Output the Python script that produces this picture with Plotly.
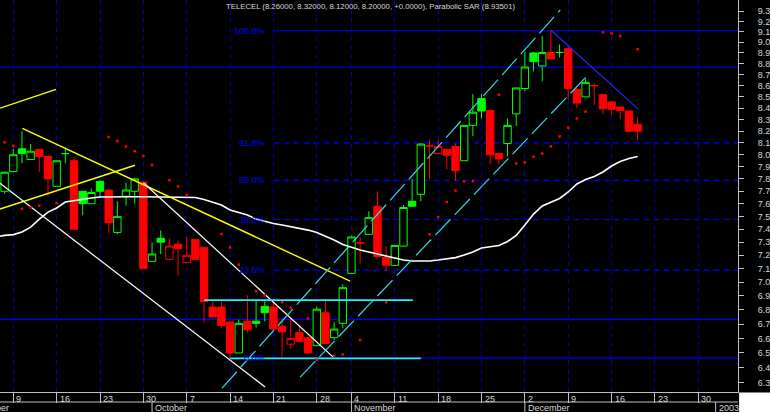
import math
import plotly.graph_objects as go

# ---------------- data ----------------
dates = [
    '2002-09-06', '2002-09-09', '2002-09-10', '2002-09-11', '2002-09-12', '2002-09-13',
    '2002-09-16', '2002-09-17', '2002-09-18', '2002-09-19', '2002-09-20', '2002-09-23',
    '2002-09-24', '2002-09-25', '2002-09-26', '2002-09-27', '2002-09-30',
    '2002-10-01', '2002-10-02', '2002-10-03', '2002-10-04', '2002-10-07', '2002-10-08',
    '2002-10-09', '2002-10-10', '2002-10-11', '2002-10-14', '2002-10-15', '2002-10-16',
    '2002-10-17', '2002-10-18', '2002-10-21', '2002-10-22', '2002-10-23', '2002-10-24',
    '2002-10-25', '2002-10-28', '2002-10-29', '2002-10-30', '2002-10-31',
    '2002-11-04', '2002-11-05', '2002-11-06', '2002-11-07', '2002-11-08', '2002-11-11',
    '2002-11-12', '2002-11-13', '2002-11-14', '2002-11-15', '2002-11-18', '2002-11-19',
    '2002-11-20', '2002-11-21', '2002-11-22', '2002-11-25', '2002-11-26', '2002-11-27',
    '2002-11-28', '2002-11-29',
    '2002-12-02', '2002-12-03', '2002-12-04', '2002-12-05', '2002-12-06', '2002-12-09',
    '2002-12-10', '2002-12-11', '2002-12-12', '2002-12-13', '2002-12-16', '2002-12-17',
    '2002-12-18', '2002-12-19',
]
opens = [
    7.70, 7.86, 8.05, 7.96, 8.045, 7.985, 7.74, 8.01, 7.95, 7.70, 7.60, 7.78, 7.71, 7.375, 7.66, 7.70, 7.775,
    7.155, 7.33, 7.17, 7.285, 7.145, 7.32, 7.26, 6.82, 6.82, 6.715, 6.50, 6.72, 6.72, 6.825, 6.82, 6.685,
    6.56, 6.64, 6.605, 6.55, 6.78, 6.605, 6.705,
    7.065, 7.295, 7.36, 7.58, 7.185, 7.125, 7.27, 7.62, 7.675, 8.075, 8.01, 8.045, 8.07, 7.95, 8.25, 8.485,
    8.38, 8.01, 8.095, 8.35,
    8.575, 8.90, 8.78, 8.905, 8.905, 8.94, 8.565, 8.50, 8.60, 8.52, 8.455, 8.41, 8.375, 8.26,
]
highs = [
    7.86, 8.05, 8.20, 8.09, 8.05, 7.99, 7.95, 8.06, 7.98, 7.70, 7.72, 7.79, 7.72, 7.62, 7.77, 7.81, 7.78,
    7.30, 7.39, 7.33, 7.31, 7.34, 7.32, 7.26, 6.86, 6.86, 6.72, 6.73, 6.905, 6.87, 6.86, 6.86, 6.74,
    6.74, 6.695, 6.605, 6.825, 6.88, 6.715, 6.985,
    7.35, 7.34, 7.54, 7.70, 7.27, 7.28, 7.59, 7.80, 8.10, 8.13, 8.13, 8.05, 8.095, 8.25, 8.525, 8.525,
    8.39, 8.02, 8.31, 8.58,
    8.91, 8.91, 9.06, 9.12, 8.98, 8.95, 8.58, 8.66, 8.62, 8.52, 8.46, 8.41, 8.38, 8.32,
]
lows = [
    7.68, 7.86, 7.93, 7.96, 7.86, 7.66, 7.74, 7.93, 7.40, 7.51, 7.60, 7.65, 7.37, 7.36, 7.585, 7.60, 7.10,
    7.155, 7.21, 7.17, 7.05, 7.145, 7.17, 6.71, 6.75, 6.67, 6.46, 6.50, 6.64, 6.675, 6.72, 6.66, 6.475,
    6.53, 6.58, 6.495, 6.55, 6.565, 6.59, 6.67,
    7.06, 7.14, 7.36, 7.19, 7.08, 7.12, 7.27, 7.575, 7.62, 7.80, 8.01, 7.88, 7.785, 7.95, 8.16, 8.31,
    7.92, 7.92, 7.985, 8.245,
    8.55, 8.73, 8.64, 8.845, 8.86, 8.48, 8.40, 8.50, 8.43, 8.35, 8.34, 8.305, 8.19, 8.12,
]
closes = [
    7.855, 8.00, 8.01, 8.03, 7.985, 7.80, 7.95, 8.01, 7.40, 7.60, 7.69, 7.70, 7.45, 7.50, 7.71, 7.80, 7.10,
    7.21, 7.30, 7.27, 7.25, 7.20, 7.17, 6.86, 6.75, 6.69, 6.50, 6.705, 6.66, 6.705, 6.78, 6.665, 6.645,
    6.60, 6.58, 6.50, 6.805, 6.565, 6.665, 6.96,
    7.34, 7.295, 7.49, 7.19, 7.125, 7.275, 7.57, 7.58, 8.09, 8.075, 8.07, 7.995, 7.87, 8.25, 8.365, 8.375,
    8.00, 7.965, 8.25, 8.58,
    8.77, 8.82, 8.905, 8.845, 8.905, 8.575, 8.445, 8.63, 8.60, 8.395, 8.39, 8.38, 8.20, 8.20,
]
ma_dates = ['2002-09-05 23:10'] + dates
ma_values = [
    7.345,
    7.352, 7.358, 7.378, 7.416, 7.479, 7.534, 7.566, 7.614, 7.626, 7.634, 7.646, 7.654,
    7.656, 7.656, 7.656, 7.656, 7.656, 7.656, 7.656, 7.656, 7.656, 7.656,
    7.650, 7.634, 7.614, 7.590, 7.550, 7.530, 7.510, 7.479, 7.459, 7.444, 7.432, 7.420,
    7.406, 7.393, 7.374, 7.347, 7.316, 7.282, 7.259, 7.240, 7.225, 7.210, 7.191, 7.176,
    7.165, 7.158, 7.158, 7.158, 7.165, 7.172, 7.183, 7.202, 7.225, 7.255, 7.263, 7.274,
    7.305, 7.352, 7.432, 7.518, 7.582, 7.610, 7.642, 7.694, 7.759, 7.795, 7.820, 7.857,
    7.906, 7.943, 7.968, 7.985,
]
sar_dates = [
    '2002-09-06', '2002-09-09', '2002-09-10', '2002-09-11', '2002-09-12', '2002-09-16', '2002-09-24',
    '2002-09-25', '2002-09-26', '2002-09-27', '2002-09-30',
    '2002-10-01', '2002-10-03', '2002-10-04', '2002-10-07', '2002-10-11', '2002-10-14', '2002-10-15',
    '2002-10-17', '2002-10-18', '2002-10-22', '2002-10-23', '2002-10-25', '2002-10-28', '2002-10-30',
    '2002-10-31',
    '2002-11-05', '2002-11-08', '2002-11-15', '2002-11-18', '2002-11-19', '2002-11-20', '2002-11-21',
    '2002-11-22', '2002-11-27', '2002-11-29',
    '2002-12-02', '2002-12-03', '2002-12-04', '2002-12-05', '2002-12-06', '2002-12-09', '2002-12-10',
    '2002-12-11', '2002-12-13', '2002-12-16', '2002-12-17', '2002-12-19',
]
sar_values = [
    8.105, 8.075, 7.56, 7.57, 7.585, 7.605, 8.15, 8.115, 8.07, 8.03, 7.99,
    7.915, 7.79, 7.74, 7.67, 7.363, 7.26, 7.13, 6.935, 6.905, 6.855, 6.815, 6.74, 6.455, 6.48, 6.49,
    6.59, 6.855, 7.36, 7.495, 7.614, 7.706, 7.78, 7.783, 8.52, 7.928,
    7.936, 7.983, 8.01, 8.07, 8.155, 8.23, 8.31, 8.37, 9.095, 9.085, 9.06, 8.935,
]

week_ticks = ['2002-09-09', '2002-09-16', '2002-09-23', '2002-09-30', '2002-10-07', '2002-10-14',
              '2002-10-21', '2002-10-28', '2002-11-04', '2002-11-11', '2002-11-18', '2002-11-25',
              '2002-12-02', '2002-12-09', '2002-12-16', '2002-12-23', '2002-12-30']
week_labels = ['9', '16', '23', '30', '7', '14', '21', '28', '4', '11', '18', '25',
               '2', '9', '16', '23', '30']
month_starts = ['2002-10-01', '2002-11-04', '2002-12-02', '2003-01-01']
month_labels = ['October', 'November', 'December', '2003']
first_month_label = 'September'

y_ticks = [round(6.3 + 0.1 * k, 1) for k in range(31)]

fib_low = 6.465
fib_high = 9.11
fib_ratios = [0.0, 0.236, 0.382, 0.5, 0.618, 1.0]
fib_labels = ['0.0%', '23.6%', '38.2%', '50.0%', '61.8%', '100.0%']
fib_start = '2002-10-21'

support_levels = [8.768, 6.733]

# drawn trend lines: (start time, start price, end time, end price)
yellow_lines = [
    ('2002-09-05 23:10', 8.40, '2002-09-16 10:19', 8.568),
    ('2002-09-10 12:58', 8.225, '2002-11-04 08:24', 7.009),
    ('2002-09-05 23:10', 7.558, '2002-09-27 12:58', 7.9125),
]
white_lines = [
    ('2002-09-05 23:10', 7.764, '2002-10-18 12:58', 6.273),
    ('2002-09-30 12:00', 7.769, '2002-10-30 09:22', 6.472),
]
cyan_channel = [
    ('2002-10-11 13:55', 6.265, '2002-12-06 13:55', 9.31),
    ('2002-10-24 13:55', 6.338, '2002-12-11 15:50', 8.688),
]
cyan_levels = [
    ('2002-10-09 12:00', 6.87, '2002-11-13 13:55', 6.87),
    ('2002-10-14 12:00', 6.4635, '2002-11-14 12:00', 6.4635),
]
blue_lines = [
    ('2002-12-05 12:58', 9.112, '2002-12-19 14:38', 8.39),
]

title_text = ('TELECEL (8.26000, 8.32000, 8.12000, 8.20000, +0.0000), '
              'Parabolic SAR (8.93501)')

# ---------------- styling ----------------
GREEN = '#00ff00'
RED = '#ff0000'
BG = '#000000'
AXIS_GRAY = '#c0c0c0'
TEXT_GRAY = '#d8d8d8'
BLUE = '#0000ff'
GRID_BLUE = '#0000a8'
FONT = 'Liberation Sans, Arial, sans-serif'

PLOT_H = 392  # pixel height of plotting area


def slot(d):
    """centre a trading day within its day slot"""
    return d + ' 12:00'


fig = go.Figure()

# candles split by colour (vs previous close) and fill (vs open)
groups = {('g', True): [], ('g', False): [], ('r', True): [], ('r', False): []}
prev_close = None
for i, (o, c) in enumerate(zip(opens, closes)):
    colour = 'g' if (prev_close is None or c > prev_close) else 'r'
    hollow = c >= o
    groups[(colour, hollow)].append(i)
    prev_close = c

for (colour, hollow), idx in groups.items():
    if not idx:
        continue
    col = GREEN if colour == 'g' else RED
    fill = BG if hollow else col
    style = dict(line=dict(color=col, width=1), fillcolor=fill)
    fig.add_trace(go.Candlestick(
        x=[slot(dates[i]) for i in idx],
        open=[opens[i] for i in idx], high=[highs[i] for i in idx],
        low=[lows[i] for i in idx], close=[closes[i] for i in idx],
        increasing=style, decreasing=style, whiskerwidth=0,
        showlegend=False, hoverinfo='skip'))


def add_segments(segs, color, width, dash='solid'):
    for x0, y0, x1, y1 in segs:
        fig.add_trace(go.Scatter(x=[x0, x1], y=[y0, y1], mode='lines',
                                 line=dict(color=color, width=width, dash=dash),
                                 showlegend=False, hoverinfo='skip'))


# moving average
fig.add_trace(go.Scatter(x=[ma_dates[0]] + [slot(d) for d in ma_dates[1:]], y=ma_values,
                         mode='lines', line=dict(color='#ffffff', width=1.6),
                         showlegend=False, hoverinfo='skip'))

add_segments(yellow_lines, '#ffff00', 1.4)
add_segments(white_lines, '#ffffff', 1.2)
add_segments(cyan_channel, '#33d8e8', 1.2, '22px,6px')
add_segments(cyan_levels, '#22eeff', 1.6)
add_segments(blue_lines, '#2828ff', 1.1)

# parabolic SAR dots
fig.add_trace(go.Scatter(x=[slot(d) for d in sar_dates], y=sar_values, mode='markers',
                         marker=dict(color=RED, size=2.5, symbol='square', line=dict(width=0)),
                         showlegend=False, hoverinfo='skip'))

shapes = []
annotations = []

# support / resistance lines across the chart
for lvl in support_levels:
    shapes.append(dict(type='line', xref='paper', x0=0, x1=1, yref='y', y0=lvl, y1=lvl,
                       line=dict(color=BLUE, width=1.2), layer='below'))

# fibonacci retracement
for r, lab in zip(fib_ratios, fib_labels):
    lvl = fib_low + r * (fib_high - fib_low)
    solid = r in (0.0, 1.0)
    shapes.append(dict(type='line', xref='x', x0=slot(fib_start), x1='2003-01-10 12:00',
                       yref='y', y0=lvl, y1=lvl,
                       line=dict(color=BLUE, width=1.2, dash='solid' if solid else '6px,4px'),
                       layer='below'))
    annotations.append(dict(x=slot(fib_start), xref='x', y=math.log10(lvl), yref='y',
                            text=lab, showarrow=False, xanchor='right', yanchor='middle',
                            xshift=-6, font=dict(family=FONT, size=9, color=BLUE)))

# bottom date band
row1 = -10 / PLOT_H
row2 = -20 / PLOT_H
shapes.append(dict(type='line', xref='paper', x0=0, x1=1, yref='paper', y0=row1, y1=row1,
                   line=dict(color=AXIS_GRAY, width=1)))
for d, lab in zip(week_ticks, week_labels):
    annotations.append(dict(x=slot(d), xref='x', y=0, yref='paper', text=lab,
                            showarrow=False, xanchor='left', yanchor='top', xshift=1, yshift=0,
                            font=dict(family=FONT, size=9, color=TEXT_GRAY)))
for d, lab in zip(month_starts, month_labels):
    shapes.append(dict(type='line', xref='x', x0=slot(d), x1=slot(d), yref='paper',
                       y0=row1, y1=row2, line=dict(color=AXIS_GRAY, width=1)))
    annotations.append(dict(x=slot(d), xref='x', y=row1, yref='paper', text=lab,
                            showarrow=False, xanchor='left', yanchor='top', xshift=1, yshift=1,
                            font=dict(family=FONT, size=9, color=TEXT_GRAY)))
annotations.append(dict(x=0, xref='paper', y=row1, yref='paper', text=first_month_label,
                        showarrow=False, xanchor='right', yanchor='top', xshift=11, yshift=1,
                        font=dict(family=FONT, size=9, color=TEXT_GRAY)))

# white corner under the price scale
shapes.append(dict(type='rect', xref='paper', x0=1.0015, x1=1.2, yref='paper', y0=-0.0015,
                   y1=-0.2, fillcolor='#ffffff', line=dict(width=0), layer='above'))

# header text
annotations.append(dict(x=224 / 738, xref='paper', y=1, yref='paper', text=title_text,
                        showarrow=False, xanchor='left', yanchor='top', yshift=0,
                        font=dict(family=FONT, size=7.75, color=TEXT_GRAY)))

fig.update_layout(
    width=770, height=412,
    margin=dict(l=0, r=32, t=0, b=20, autoexpand=False),
    paper_bgcolor=BG, plot_bgcolor=BG,
    showlegend=False, hovermode=False,
    boxgap=0.15, boxgroupgap=0, boxmode='overlay',
    shapes=shapes, annotations=annotations,
    xaxis=dict(
        type='date',
        range=['2002-09-05 23:10', '2003-01-06 01:55'],
        rangebreaks=[dict(bounds=['sat', 'mon']), dict(values=['2002-11-01'])],
        rangeslider=dict(visible=False),
        tickmode='array', tickvals=[slot(d) for d in week_ticks], showticklabels=False,
        ticks='outside', ticklen=10, tickcolor=AXIS_GRAY, tickwidth=1,
        showline=True, linecolor=AXIS_GRAY, linewidth=1,
        showgrid=True, gridcolor=GRID_BLUE, gridwidth=1, griddash='5px,4px',
        zeroline=False, automargin=False, fixedrange=True,
    ),
    yaxis=dict(
        type='log', side='right',
        range=[0.79516, 0.97350],
        tickmode='array', tickvals=y_ticks, ticktext=['%.1f' % v for v in y_ticks],
        ticks='outside', ticklen=5, tickcolor=AXIS_GRAY, tickwidth=1,
        showline=True, linecolor=AXIS_GRAY, linewidth=1,
        showgrid=False, zeroline=False, automargin=False, fixedrange=True,
        tickfont=dict(family=FONT, size=9, color=TEXT_GRAY),
        ticklabelstandoff=12,
    ),
)

fig.write_html('out.html', config={'displayModeBar': False},
               post_script="document.body.style.margin='0';"
                           "document.body.style.overflow='hidden';")
